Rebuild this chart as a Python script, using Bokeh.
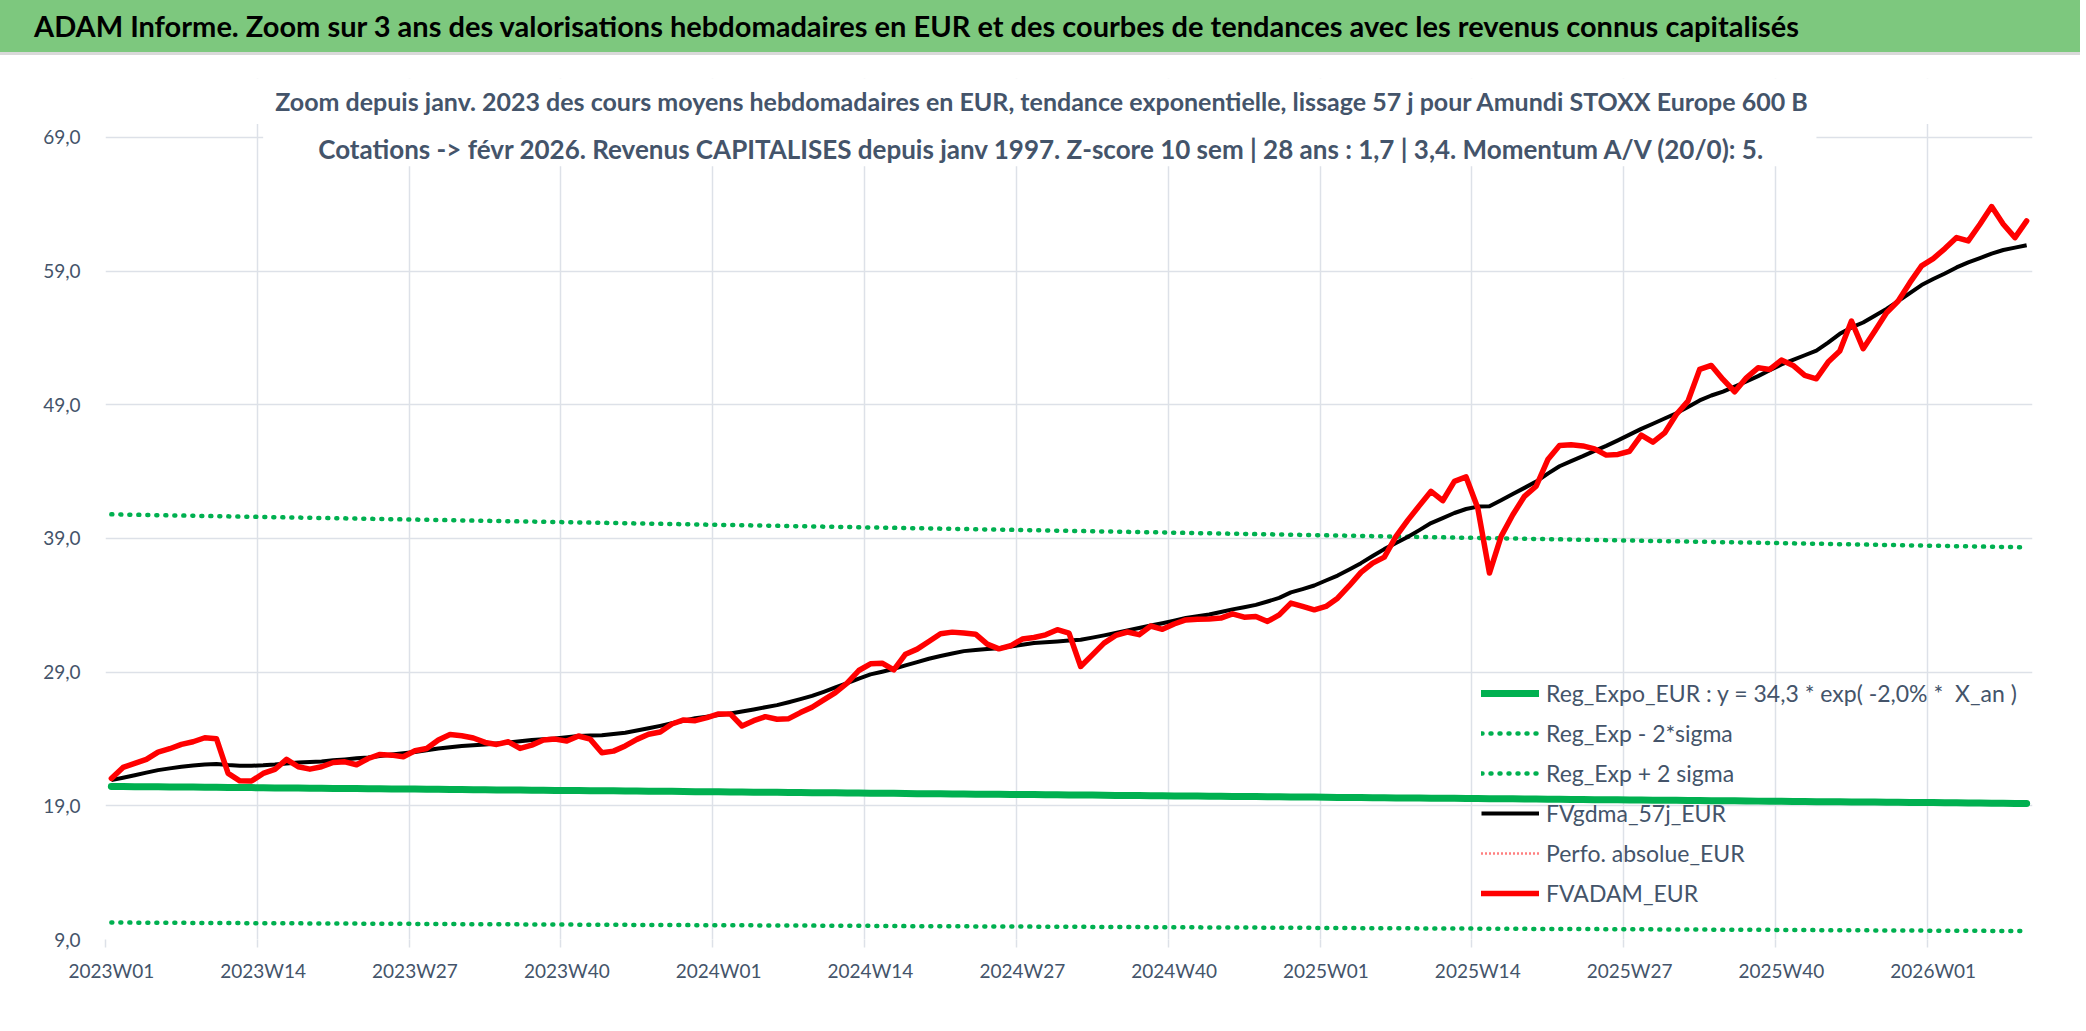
from bokeh.plotting import figure
from bokeh.models import Range1d, FixedTicker, LinearAxis, Legend, LegendItem, Label, BoxAnnotation, Grid, Div
from bokeh.layouts import column
from bokeh.embed import file_html
from bokeh.resources import INLINE

# ---------------- data ----------------
weeks = [f"{y}W{w:02d}" for y in (2023, 2024, 2025) for w in range(1, 53)] + [f"2026W{w:02d}" for w in range(1, 10)]

tick_labels = ["2023W01", "2023W14", "2023W27", "2023W40", "2024W01", "2024W14", "2024W27",
               "2024W40", "2025W01", "2025W14", "2025W27", "2025W40", "2026W01"]

y_ticks = [9, 19, 29, 39, 49, 59, 69]
y_labels = ["9,0", "19,0", "29,0", "39,0", "49,0", "59,0", "69,0"]

fvadam = [21.05, 21.87, 22.17, 22.47, 23.02, 23.27, 23.59, 23.79, 24.09, 24.02,
          21.42, 20.87, 20.85, 21.42, 21.72, 22.47, 21.92, 21.74, 21.92, 22.24,
          22.29, 22.07, 22.54, 22.84, 22.79, 22.67, 23.12, 23.29, 23.92, 24.34,
          24.24, 24.07, 23.74, 23.59, 23.79, 23.29, 23.54, 23.92, 23.99, 23.84,
          24.22, 23.99, 22.97, 23.09, 23.48, 23.97, 24.35, 24.52, 25.12, 25.42,
          25.37, 25.60, 25.87, 25.87, 24.97, 25.37, 25.67, 25.47, 25.52, 25.97,
          26.37, 26.92, 27.47, 28.17, 29.12, 29.62, 29.67, 29.17, 30.34, 30.72,
          31.29, 31.87, 31.99, 31.92, 31.84, 31.09, 30.74, 30.97, 31.47, 31.59,
          31.79, 32.17, 31.92, 29.42, 30.29, 31.17, 31.74, 32.00, 31.80, 32.45,
          32.20, 32.60, 32.90, 32.96, 32.98, 33.04, 33.36, 33.11, 33.16, 32.79,
          33.28, 34.16, 33.91, 33.66, 33.91, 34.53, 35.46, 36.46, 37.15, 37.60,
          39.15, 40.35, 41.45, 42.52, 41.82, 43.27, 43.60, 41.27, 36.41, 39.15,
          40.77, 42.15, 42.90, 44.90, 45.95, 46.00, 45.92, 45.70, 45.23, 45.28,
          45.52, 46.72, 46.20, 46.89, 48.27, 49.27, 51.64, 51.94, 50.89, 49.97,
          51.01, 51.76, 51.64, 52.34, 51.94, 51.19, 50.94, 52.19, 53.01, 55.26,
          53.19, 54.51, 55.88, 56.76, 58.13, 59.38, 59.93, 60.68, 61.50, 61.25,
          62.50, 63.82, 62.50, 61.50, 62.75]

fvgdma = [20.92, 21.10, 21.29, 21.48, 21.67, 21.80, 21.92, 22.01, 22.09, 22.12,
          22.05, 22.00, 21.99, 22.03, 22.09, 22.17, 22.24, 22.28, 22.32, 22.40,
          22.47, 22.55, 22.62, 22.73, 22.84, 22.93, 23.02, 23.15, 23.29, 23.38,
          23.47, 23.53, 23.59, 23.66, 23.74, 23.83, 23.92, 23.98, 24.04, 24.13,
          24.22, 24.25, 24.27, 24.37, 24.47, 24.63, 24.80, 24.98, 25.17, 25.36,
          25.55, 25.67, 25.79, 25.90, 26.05, 26.21, 26.37, 26.53, 26.75, 26.98,
          27.22, 27.53, 27.85, 28.17, 28.52, 28.83, 29.03, 29.24, 29.50, 29.75,
          30.00, 30.21, 30.39, 30.57, 30.66, 30.72, 30.78, 30.91, 31.04, 31.17,
          31.23, 31.29, 31.36, 31.42, 31.58, 31.75, 31.93, 32.12, 32.30, 32.48,
          32.66, 32.85, 33.05, 33.18, 33.31, 33.50, 33.69, 33.85, 34.03, 34.28,
          34.55, 34.96, 35.21, 35.48, 35.85, 36.22, 36.68, 37.15, 37.68, 38.20,
          38.65, 39.10, 39.62, 40.15, 40.52, 40.90, 41.20, 41.38, 41.40, 41.85,
          42.32, 42.78, 43.25, 43.85, 44.40, 44.78, 45.15, 45.55, 45.92, 46.33,
          46.76, 47.19, 47.58, 47.97, 48.36, 48.83, 49.32, 49.69, 49.98, 50.35,
          50.74, 51.14, 51.58, 52.01, 52.35, 52.70, 53.05, 53.65, 54.30, 54.78,
          55.15, 55.66, 56.17, 56.75, 57.35, 57.95, 58.40, 58.82, 59.27, 59.65,
          59.97, 60.30, 60.57, 60.75, 60.93]

reg_expo = [20.45, 20.44, 20.43, 20.43, 20.42, 20.41, 20.40, 20.40, 20.39, 20.38,
            20.37, 20.36, 20.36, 20.35, 20.34, 20.33, 20.33, 20.32, 20.31, 20.30,
            20.29, 20.29, 20.28, 20.27, 20.26, 20.26, 20.25, 20.24, 20.23, 20.22,
            20.22, 20.21, 20.20, 20.19, 20.19, 20.18, 20.17, 20.16, 20.15, 20.15,
            20.14, 20.13, 20.12, 20.12, 20.11, 20.10, 20.09, 20.08, 20.08, 20.07,
            20.06, 20.05, 20.05, 20.04, 20.03, 20.02, 20.01, 20.01, 20.00, 19.99,
            19.98, 19.98, 19.97, 19.96, 19.95, 19.94, 19.94, 19.93, 19.92, 19.91,
            19.91, 19.90, 19.89, 19.88, 19.87, 19.87, 19.86, 19.85, 19.84, 19.84,
            19.83, 19.82, 19.81, 19.80, 19.80, 19.79, 19.78, 19.77, 19.77, 19.76,
            19.75, 19.74, 19.73, 19.73, 19.72, 19.71, 19.70, 19.70, 19.69, 19.68,
            19.67, 19.66, 19.66, 19.65, 19.64, 19.63, 19.63, 19.62, 19.61, 19.60,
            19.59, 19.59, 19.58, 19.57, 19.56, 19.56, 19.55, 19.54, 19.53, 19.52,
            19.52, 19.51, 19.50, 19.49, 19.49, 19.48, 19.47, 19.46, 19.45, 19.45,
            19.44, 19.43, 19.42, 19.42, 19.41, 19.40, 19.39, 19.38, 19.38, 19.37,
            19.36, 19.35, 19.35, 19.34, 19.33, 19.32, 19.31, 19.31, 19.30, 19.29,
            19.28, 19.28, 19.27, 19.26, 19.25, 19.24, 19.24, 19.23, 19.22, 19.21,
            19.21, 19.20, 19.19, 19.18, 19.17]

reg_plus_2s = [40.80, 40.78, 40.77, 40.75, 40.74, 40.72, 40.71, 40.69, 40.68, 40.66,
               40.65, 40.63, 40.62, 40.60, 40.59, 40.57, 40.56, 40.54, 40.53, 40.51,
               40.50, 40.48, 40.47, 40.45, 40.44, 40.42, 40.41, 40.39, 40.38, 40.36,
               40.35, 40.33, 40.32, 40.30, 40.29, 40.27, 40.26, 40.24, 40.23, 40.21,
               40.20, 40.18, 40.17, 40.15, 40.14, 40.12, 40.11, 40.09, 40.08, 40.06,
               40.05, 40.03, 40.02, 40.00, 39.99, 39.97, 39.96, 39.94, 39.93, 39.91,
               39.90, 39.88, 39.87, 39.85, 39.84, 39.82, 39.81, 39.79, 39.78, 39.76,
               39.75, 39.73, 39.72, 39.70, 39.69, 39.67, 39.66, 39.64, 39.63, 39.61,
               39.60, 39.58, 39.57, 39.55, 39.54, 39.52, 39.51, 39.49, 39.48, 39.46,
               39.45, 39.43, 39.41, 39.40, 39.38, 39.37, 39.35, 39.34, 39.32, 39.31,
               39.29, 39.28, 39.26, 39.25, 39.23, 39.22, 39.20, 39.19, 39.17, 39.16,
               39.14, 39.13, 39.11, 39.10, 39.08, 39.07, 39.05, 39.04, 39.02, 39.01,
               38.99, 38.98, 38.96, 38.95, 38.93, 38.92, 38.90, 38.89, 38.87, 38.86,
               38.84, 38.83, 38.81, 38.80, 38.78, 38.77, 38.75, 38.74, 38.72, 38.71,
               38.69, 38.68, 38.66, 38.65, 38.63, 38.62, 38.60, 38.59, 38.57, 38.56,
               38.54, 38.53, 38.51, 38.50, 38.48, 38.47, 38.45, 38.44, 38.42, 38.41,
               38.39, 38.38, 38.36, 38.35, 38.33]

reg_minus_2s = [10.27, 10.27, 10.26, 10.26, 10.25, 10.25, 10.25, 10.24, 10.24, 10.23,
                10.23, 10.23, 10.22, 10.22, 10.22, 10.21, 10.21, 10.20, 10.20, 10.20,
                10.19, 10.19, 10.18, 10.18, 10.18, 10.17, 10.17, 10.16, 10.16, 10.16,
                10.15, 10.15, 10.14, 10.14, 10.14, 10.13, 10.13, 10.13, 10.12, 10.12,
                10.11, 10.11, 10.11, 10.10, 10.10, 10.09, 10.09, 10.09, 10.08, 10.08,
                10.07, 10.07, 10.07, 10.06, 10.06, 10.06, 10.05, 10.05, 10.04, 10.04,
                10.04, 10.03, 10.03, 10.02, 10.02, 10.02, 10.01, 10.01, 10.00, 10.00,
                10.00, 9.99, 9.99, 9.99, 9.98, 9.98, 9.97, 9.97, 9.97, 9.96,
                9.96, 9.95, 9.95, 9.95, 9.94, 9.94, 9.93, 9.93, 9.93, 9.92,
                9.92, 9.92, 9.91, 9.91, 9.90, 9.90, 9.90, 9.89, 9.89, 9.88,
                9.88, 9.88, 9.87, 9.87, 9.86, 9.86, 9.86, 9.85, 9.85, 9.85,
                9.84, 9.84, 9.83, 9.83, 9.83, 9.82, 9.82, 9.81, 9.81, 9.81,
                9.80, 9.80, 9.79, 9.79, 9.79, 9.78, 9.78, 9.78, 9.77, 9.77,
                9.76, 9.76, 9.76, 9.75, 9.75, 9.74, 9.74, 9.74, 9.73, 9.73,
                9.72, 9.72, 9.72, 9.71, 9.71, 9.71, 9.70, 9.70, 9.69, 9.69,
                9.69, 9.68, 9.68, 9.67, 9.67, 9.67, 9.66, 9.66, 9.65, 9.65,
                9.65, 9.64, 9.64, 9.64, 9.63]

# "Perfo. absolue_EUR" lies outside this zoomed window: no visible value (legend only)
perfo_absolue = [float("nan")] * len(weeks)

TITLE = ("ADAM Informe. Zoom sur 3 ans des valorisations hebdomadaires en EUR et des courbes "
         "de tendances avec les revenus connus capitalisés")
SUB1 = ("Zoom depuis janv. 2023 des cours moyens hebdomadaires en EUR, tendance exponentielle, "
        "lissage 57 j pour Amundi STOXX Europe 600 B")
SUB2 = ("Cotations -> févr 2026. Revenus CAPITALISES depuis janv 1997. Z-score 10 sem | 28 ans : "
        "1,7 | 3,4. Momentum A/V (20/0): 5.")
LEG = ["Reg_Expo_EUR : y = 34,3 * exp( -2,0% *  X_an )", "Reg_Exp - 2*sigma", "Reg_Exp + 2 sigma",
       "FVgdma_57j_EUR", "Perfo. absolue_EUR", "FVADAM_EUR"]

# ---------------- style ----------------
FONT = "Lato"
TXT = "#44546A"
GRID = "#DDE1E8"
GREEN = "#00B050"
RED = "#FF0000"
HEAD = "#7DC87E"

n = len(weeks)
x = [i + 0.5 for i in range(n)]
tick_pos = [weeks.index(t) + 0.5 for t in tick_labels]
bounds = [weeks.index(t) for t in tick_labels]

# ---------------- header bar ----------------
header = Div(text=TITLE, width=2080, height=55, margin=0,
             styles={"background-color": HEAD, "font-family": FONT, "font-weight": "bold",
                     "font-size": "29px", "color": "#000000", "padding-left": "34px",
                     "line-height": "52px", "box-sizing": "border-box",
                     "border-bottom": "3px solid #D9D9D9", "white-space": "nowrap",
                     "overflow": "hidden"})

# ---------------- main chart ----------------
p = figure(width=2080, height=971, x_range=Range1d(0, n), y_range=Range1d(9, 73.4),
           output_backend="svg", toolbar_location=None, margin=0,
           min_border_left=105, min_border_right=48, min_border_top=23, min_border_bottom=87,
           x_axis_type=None, y_axis_type=None, background_fill_color="white",
           border_fill_color="white", outline_line_color=None)

p.add_layout(Grid(dimension=0, ticker=FixedTicker(ticks=bounds), grid_line_color=GRID, grid_line_width=1.5))
p.add_layout(Grid(dimension=1, ticker=FixedTicker(ticks=y_ticks), grid_line_color=GRID, grid_line_width=1.5))

yaxis = LinearAxis(ticker=FixedTicker(ticks=y_ticks), major_label_overrides=dict(zip(y_ticks, y_labels)),
                   axis_line_color=None, major_tick_line_color=None, minor_tick_line_color=None,
                   major_label_standoff=19, major_label_text_font=FONT,
                   major_label_text_font_size="19px", major_label_text_color=TXT)
p.add_layout(yaxis, "left")

xticks_axis = LinearAxis(ticker=FixedTicker(ticks=bounds), major_label_overrides={b: "" for b in bounds},
                         major_tick_out=8, major_tick_in=0, major_tick_line_color=GRID,
                         major_tick_line_width=1.5, minor_tick_line_color=None, axis_line_color=None,
                         major_label_standoff=0, major_label_text_font_size="1px")
p.add_layout(xticks_axis, "below")

xlabel_axis = LinearAxis(ticker=FixedTicker(ticks=tick_pos), major_label_overrides=dict(zip(tick_pos, tick_labels)),
                         major_tick_line_color=None, major_tick_out=0, major_tick_in=0,
                         minor_tick_line_color=None, axis_line_color=None, major_label_standoff=11,
                         major_label_text_font=FONT, major_label_text_font_size="19px",
                         major_label_text_color=TXT)
p.add_layout(xlabel_axis, "below")

# white areas: strip above the plot area and box behind the subtitle (cover gridlines)
p.add_layout(BoxAnnotation(bottom=70, fill_color="white", fill_alpha=1, line_color=None, level="underlay"))
p.add_layout(BoxAnnotation(left=13.5, right=146.5, bottom=66.83, top=70, fill_color="white",
                           fill_alpha=1, line_color=None, level="underlay"))

r_reg = p.line(x, reg_expo, line_color=GREEN, line_width=7, line_cap="round", line_join="round")
r_lo = p.line(x, reg_minus_2s, line_color=GREEN, line_width=4.5, line_dash="1 8", line_cap="round")
r_hi = p.line(x, reg_plus_2s, line_color=GREEN, line_width=4.5, line_dash="1 8", line_cap="round")
r_gd = p.line(x, fvgdma, line_color="black", line_width=4, line_join="round")
r_pf = p.line(x, perfo_absolue, line_color=RED, line_width=2.5, line_dash="1 3")
r_fv = p.line(x, fvadam, line_color=RED, line_width=5.5, line_join="round", line_cap="round")

legend = Legend(items=[LegendItem(label=LEG[0], renderers=[r_reg]),
                       LegendItem(label=LEG[1], renderers=[r_lo]),
                       LegendItem(label=LEG[2], renderers=[r_hi]),
                       LegendItem(label=LEG[3], renderers=[r_gd]),
                       LegendItem(label=LEG[4], renderers=[r_pf]),
                       LegendItem(label=LEG[5], renderers=[r_fv])],
                location=(1376, 26), orientation="vertical", glyph_width=58, glyph_height=40,
                label_height=40, spacing=0, padding=0, margin=0, label_standoff=7,
                background_fill_alpha=0, border_line_color=None,
                label_text_font=FONT, label_text_font_size="23px", label_text_color=TXT)
p.add_layout(legend)

p.add_layout(Label(x=80.2, y=71.68, text=SUB1, text_align="center", text_baseline="middle",
                   text_font=FONT, text_font_style="bold", text_font_size="25px", text_color=TXT))
p.add_layout(Label(x=80.2, y=68.16, text=SUB2, text_align="center", text_baseline="middle",
                   text_font=FONT, text_font_style="bold", text_font_size="26px", text_color=TXT))

layout = column(header, p, spacing=0)
open("out.html", "w").write(file_html(layout, INLINE))
